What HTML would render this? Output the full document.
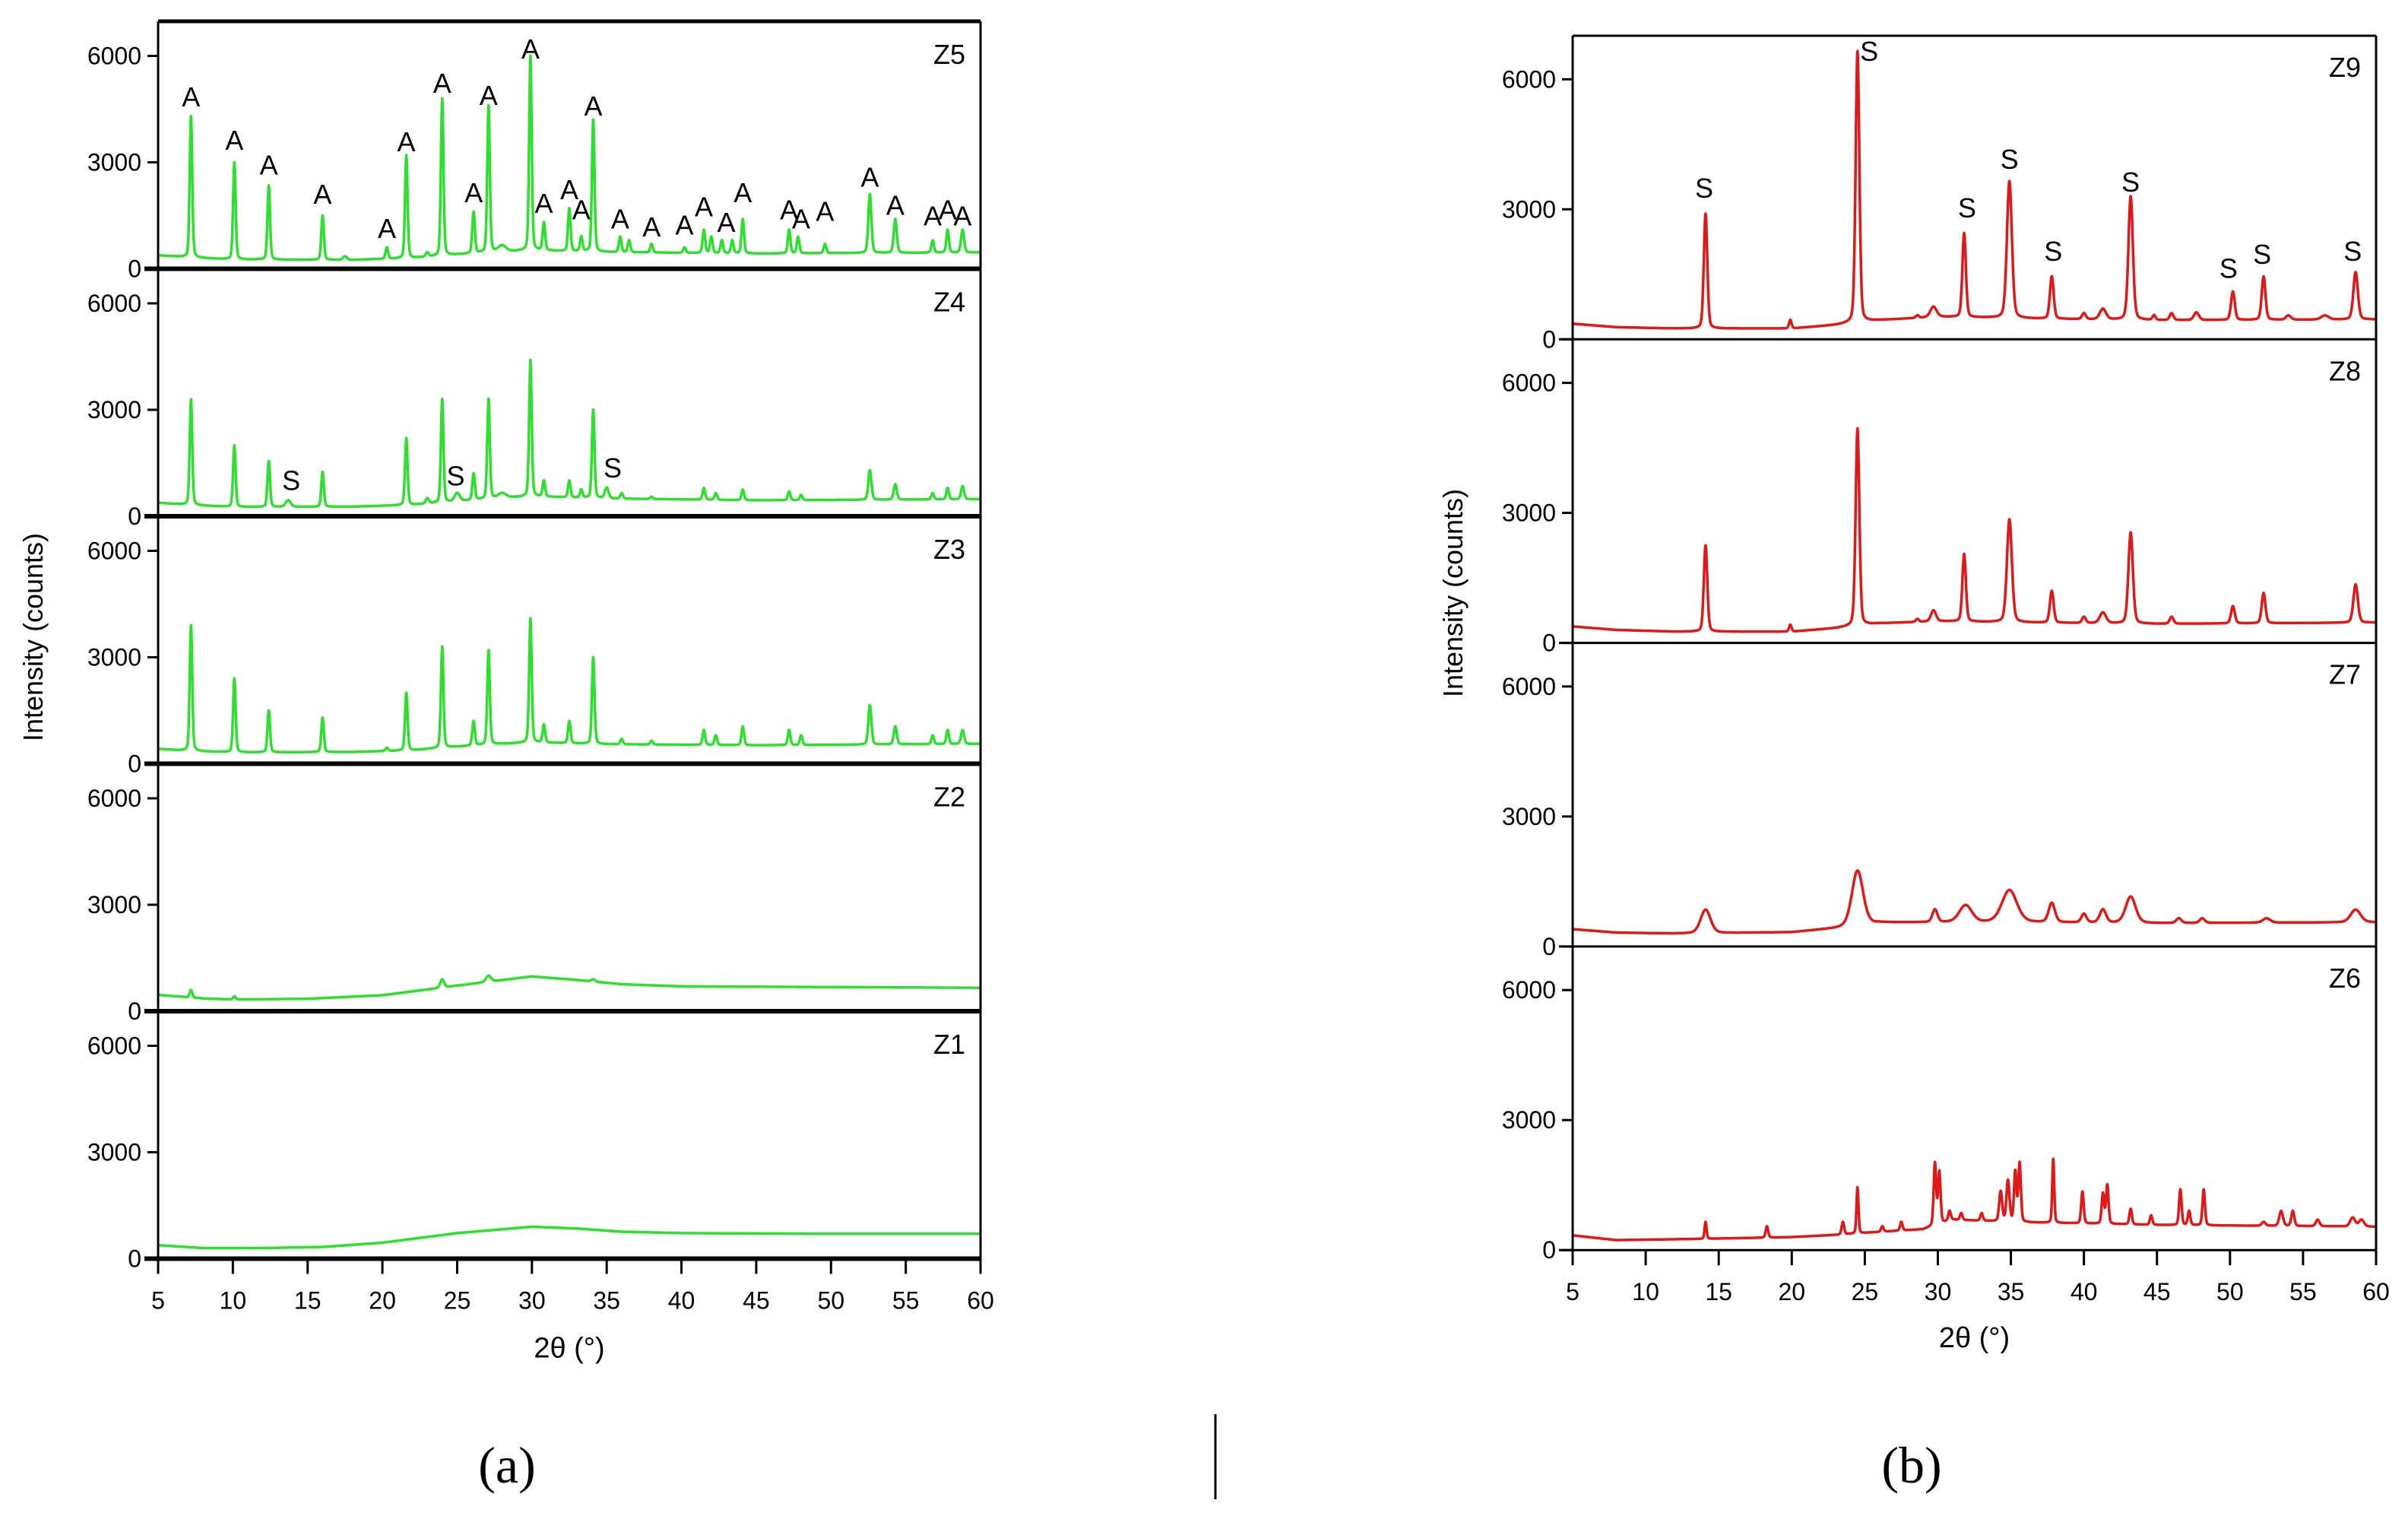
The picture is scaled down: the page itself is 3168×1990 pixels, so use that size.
<!DOCTYPE html>
<html><head><meta charset="utf-8">
<style>
html,body{margin:0;padding:0;background:#fff;}
svg{display:block;font-family:"Liberation Sans",Arial,sans-serif;}
</style></head>
<body>
<svg id="chart" width="3168" height="1990" viewBox="0 0 3168 1990" xmlns="http://www.w3.org/2000/svg">
<g id="left"></g>
<g id="right"></g>
<text x="667" y="1950" font-family="Liberation Serif, serif" font-size="68" text-anchor="middle">(a)</text>
<text x="2515" y="1950" font-family="Liberation Serif, serif" font-size="68" text-anchor="middle">(b)</text>
<line x1="1599" y1="1860" x2="1599" y2="1972" stroke="#000" stroke-width="3"/>
</svg>
<script>
// ===== Data: sample names =====
const leftSamples = ["Z5","Z4","Z3","Z2","Z1"];
const rightSamples = ["Z9","Z8","Z7","Z6"];
const xTicks = [5,10,15,20,25,30,35,40,45,50,55,60];
const yTicks = [0,3000,6000];

// Baselines [2theta, counts]
const baseZ5 = [[5,380],[7,320],[10,260],[18,250],[22,300],[25,400],[28,480],[30,520],[35,470],[45,430],[60,460]];
const baseZ4 = [[5,380],[7,320],[10,260],[18,270],[22,320],[25,420],[28,520],[30,560],[35,500],[45,450],[60,480]];
const baseZ3 = [[5,420],[7,360],[10,320],[18,330],[22,380],[25,480],[28,560],[30,600],[35,550],[45,520],[60,560]];
const baseZ2 = [[5,460],[8,360],[10,330],[15,350],[20,450],[25,720],[30,980],[33,880],[36,760],[40,700],[50,680],[60,660]];
const baseZ1 = [[5,380],[8,300],[12,300],[16,330],[20,450],[25,720],[30,900],[33,850],[36,760],[40,720],[50,700],[60,700]];
const baseZ9 = [[5,360],[8,280],[12,250],[20,250],[23,330],[26,440],[30,520],[36,480],[45,440],[60,460]];
const baseZ8 = [[5,380],[8,300],[12,260],[20,260],[23,340],[26,450],[30,500],[36,470],[45,440],[60,470]];
const baseZ7 = [[5,400],[8,320],[12,300],[20,330],[23,420],[26,550],[30,560],[36,560],[45,540],[60,560]];
const baseZ6 = [[5,340],[8,230],[14,260],[20,300],[23,350],[26,420],[29,480],[31,700],[36,640],[45,580],[60,540]];

// Peaks [2theta, top counts, half width]
const peaksZ5 = [[7.2,4300,.1],[10.1,3000,.1],[12.4,2350,.1],[16.0,1500,.1],[17.5,350,.15],[20.3,600,.1],[21.6,3200,.1],[23.0,450,.12],[24.0,4800,.1],[26.1,1600,.1],[27.1,4600,.1],[28.0,650,.3],[29.9,6000,.1],[30.8,1300,.1],[32.5,1700,.1],[33.3,900,.1],[34.1,4200,.1],[35.9,900,.1],[36.5,800,.1],[38.0,700,.1],[40.2,600,.1],[41.5,1100,.1],[42.0,900,.1],[42.7,800,.1],[43.4,800,.1],[44.1,1400,.1],[47.2,1100,.1],[47.8,900,.1],[49.6,700,.1],[52.6,2100,.12],[54.3,1400,.12],[56.8,800,.1],[57.8,1100,.1],[58.8,1100,.12]];
const peaksZ4 = [[7.2,3300,.1],[10.1,2000,.1],[12.4,1550,.1],[13.7,450,.2],[16.0,1250,.1],[21.6,2200,.1],[23.0,500,.12],[24.0,3300,.1],[25.0,650,.2],[26.1,1200,.1],[27.1,3300,.1],[28.0,650,.3],[29.9,4400,.1],[30.8,1000,.1],[32.5,1000,.1],[33.3,750,.1],[34.1,3000,.1],[35.0,800,.15],[36.0,650,.1],[38.0,550,.1],[41.5,800,.1],[42.3,650,.1],[44.1,750,.1],[47.2,700,.1],[48,600,.1],[52.6,1300,.12],[54.3,900,.12],[56.8,650,.1],[57.8,800,.1],[58.8,850,.12]];
const peaksZ3 = [[7.2,3900,.1],[10.1,2400,.1],[12.4,1500,.1],[16.0,1300,.1],[20.3,450,.1],[21.6,2000,.1],[24.0,3300,.1],[26.1,1200,.1],[27.1,3200,.1],[29.9,4100,.1],[30.8,1100,.1],[32.5,1200,.1],[34.1,3000,.1],[36.0,700,.1],[38.0,650,.1],[41.5,950,.1],[42.3,800,.1],[44.1,1050,.1],[47.2,950,.1],[48,800,.1],[52.6,1650,.12],[54.3,1050,.12],[56.8,800,.1],[57.8,950,.1],[58.8,950,.12]];
const peaksZ2 = [[7.2,600,.1],[10.1,420,.1],[24.0,900,.15],[27.1,1000,.2],[34.1,900,.15]];
const peaksZ1 = [];
const peaksZ9 = [[14.1,2900,.14],[19.9,450,.1],[24.5,6650,.15],[28.6,550,.12],[29.7,750,.25],[31.8,2450,.14],[34.9,3650,.2],[37.8,1450,.15],[40.0,600,.15],[41.3,700,.25],[43.2,3300,.18],[44.8,550,.12],[46.0,600,.15],[47.7,620,.2],[50.2,1100,.15],[52.3,1450,.15],[54.0,550,.2],[56.5,550,.3],[58.6,1550,.18]];
const peaksZ8 = [[14.1,2250,.14],[19.9,420,.1],[24.5,4950,.15],[28.6,550,.12],[29.7,750,.2],[31.8,2050,.14],[34.9,2850,.2],[37.8,1200,.15],[40.0,600,.15],[41.3,700,.25],[43.2,2550,.18],[46.0,600,.15],[50.2,850,.15],[52.3,1150,.15],[58.6,1350,.18]];
const peaksZ7 = [[14.1,850,.4],[24.5,1750,.45],[29.8,850,.2],[31.9,950,.5],[34.9,1300,.6],[37.8,1000,.25],[40.0,750,.2],[41.3,850,.25],[43.2,1150,.4],[46.5,650,.2],[48.1,650,.2],[52.5,650,.3],[58.6,850,.4]];
const peaksZ6 = [[14.1,650,.08],[18.3,550,.1],[23.5,650,.1],[24.5,1450,.08],[26.2,550,.1],[27.5,650,.1],[29.8,2000,.1],[30.1,1800,.1],[30.8,900,.1],[31.6,850,.1],[33.0,850,.1],[34.3,1350,.12],[34.8,1600,.12],[35.3,1800,.1],[35.6,2000,.1],[37.9,2100,.08],[39.9,1350,.1],[41.3,1300,.1],[41.6,1500,.1],[43.2,950,.1],[44.6,800,.1],[46.6,1400,.1],[47.2,900,.1],[48.2,1400,.1],[52.3,650,.15],[53.5,900,.15],[54.3,900,.12],[56.0,700,.15],[58.4,750,.2],[59.0,700,.2]];

// Annotations [2theta, counts (text center), label]
const labelsZ5 = [[7.2,4830,"A"],[10.1,3610,"A"],[12.4,2910,"A"],[16,2090,"A"],[20.3,1130,"A"],[21.6,3570,"A"],[24,5220,"A"],[26.1,2130,"A"],[27.1,4870,"A"],[29.9,6180,"A"],[30.8,1830,"A"],[32.5,2220,"A"],[33.3,1650,"A"],[34.1,4570,"A"],[35.9,1390,"A"],[38,1170,"A"],[40.2,1220,"A"],[41.5,1740,"A"],[43,1300,"A"],[44.1,2130,"A"],[47.2,1650,"A"],[48,1390,"A"],[49.6,1610,"A"],[52.6,2570,"A"],[54.3,1780,"A"],[56.8,1480,"A"],[57.8,1650,"A"],[58.8,1480,"A"]];
const labelsZ4 = [[13.9,1000,"S"],[24.9,1130,"S"],[35.4,1350,"S"]];
const labelsZ9 = [[14.0,3480,"S"],[25.3,6640,"S"],[32.0,3020,"S"],[34.9,4150,"S"],[37.9,2020,"S"],[43.2,3620,"S"],[49.9,1630,"S"],[52.2,1950,"S"],[58.4,2020,"S"]];

const NS = "http://www.w3.org/2000/svg";
function mk(tag, attrs, parent){
  const e = document.createElementNS(NS, tag);
  for (const k in attrs) e.setAttribute(k, attrs[k]);
  parent.appendChild(e);
  return e;
}
function interp(base, x){
  for (let i=0;i<base.length-1;i++){
    if (x>=base[i][0] && x<=base[i+1][0]){
      const t=(x-base[i][0])/(base[i+1][0]-base[i][0]);
      return base[i][1]+t*(base[i+1][1]-base[i][1]);
    }
  }
  return base[base.length-1][1];
}
function spectrum(base, peaks){
  const out=[];
  for (let x=5; x<=60.0001; x+=0.02){
    let y=interp(base,x);
    for (const p of peaks){
      const amp=p[1]-interp(base,p[0]);
      const d=(x-p[0])/p[2];
      y+=amp*(0.75*Math.exp(-0.693*d*d)+0.25/(1+d*d));
    }
    out.push([x,y]);
  }
  return out;
}

function drawSide(g, cfg){
  const xs = v => cfg.x0 + (v-5)/55*(cfg.x1-cfg.x0);
  cfg.samples.forEach((name,i)=>{
    const top = cfg.top + i*cfg.h, bot = top + cfg.h;
    const ys = v => bot - v*cfg.pxPer6000/6000;
    const pg = mk("g",{},g);
    
    
    const pts = spectrum(cfg.bases[i], cfg.peaks[i]);
    const d = pts.map((p,k)=>(k?"L":"M")+xs(p[0]).toFixed(1)+" "+Math.max(top+2,ys(p[1])).toFixed(1)).join("");
    const path = mk("path",{d:d,fill:"none",stroke:cfg.color,"stroke-width":cfg.lw,"stroke-linejoin":"round"},pg);
    
    
    if (i===0){
      const tl = mk("line",{x1:cfg.x0,y1:top,x2:cfg.x1,y2:top,stroke:"#000","stroke-width":cfg.topW},pg);
      
      
    }
    const bl = mk("line",{x1:cfg.x0-(cfg.extLeft||0),y1:bot,x2:cfg.x1,y2:bot,stroke:"#000","stroke-width":cfg.sepW},pg);
    
    
    yTicks.forEach(t=>{
      const y = ys(t);
      const tk = mk("line",{x1:cfg.x0-14,y1:y,x2:cfg.x0,y2:y,stroke:"#000","stroke-width":3},pg);
      
      
      const tx = mk("text",{x:cfg.x0-22,y:y+11,"font-size":cfg.fs,"text-anchor":"end",fill:"#000"},pg);
      tx.textContent = t;
      
      
    });
    const nm = mk("text",{x:cfg.x1-20,y:top+cfg.nameDy,"font-size":cfg.fs+4,"text-anchor":"end",fill:"#000"},pg);
    nm.textContent = name;
    
    
    (cfg.labels[i]||[]).forEach(l=>{
      const a = mk("text",{x:xs(l[0]),y:ys(l[1])+12,"font-size":cfg.fs+4,"text-anchor":"middle",fill:"#000"},pg);
      a.textContent = l[2];
      
      
    });
  });
  const yTop = cfg.top, yBot = cfg.top + cfg.samples.length*cfg.h;
  const lsd = mk("line",{x1:cfg.x0,y1:yTop,x2:cfg.x0,y2:yBot,stroke:"#000","stroke-width":3},g);
  
  
  const rsd = mk("line",{x1:cfg.x1,y1:yTop,x2:cfg.x1,y2:yBot,stroke:"#000","stroke-width":3},g);
  
  
  xTicks.forEach(t=>{
    const x = xs(t);
    const tk = mk("line",{x1:x,y1:yBot,x2:x,y2:yBot+20,stroke:"#000","stroke-width":3},g);
    
    
    const tx = mk("text",{x:x,y:yBot+cfg.xLabDy,"font-size":cfg.fs,"text-anchor":"middle",fill:"#000"},g);
    tx.textContent = t;
    
    
  });
  const xt = mk("text",{x:(cfg.x0+cfg.x1)/2,y:yBot+cfg.xTitleDy,"font-size":cfg.fs+6,"text-anchor":"middle",fill:"#000"},g);
  xt.textContent = "2θ (°)";
  
  
  const yt = mk("text",{x:0,y:0,"font-size":cfg.fs+4,"text-anchor":"middle",fill:"#000",transform:`translate(${cfg.yTitleX},${cfg.yTitleY}) rotate(-90)`},g);
  yt.textContent = "Intensity (counts)";
  
  
}

drawSide(document.getElementById("left"),{
  samples:leftSamples, x0:208, x1:1290, top:28, h:325.5, pxPer6000:280,
  bases:[baseZ5,baseZ4,baseZ3,baseZ2,baseZ1], peaks:[peaksZ5,peaksZ4,peaksZ3,peaksZ2,peaksZ1],
  labels:[labelsZ5,labelsZ4], color:"#2ee02e", lw:3.5, topW:5, sepW:6, extLeft:18,
  fs:32, nameDy:56, xLabDy:66, xTitleDy:130, yTitleX:56, yTitleY:838
});
drawSide(document.getElementById("right"),{
  samples:rightSamples, x0:2069, x1:3126, top:47, h:399.3, pxPer6000:342,
  bases:[baseZ9,baseZ8,baseZ7,baseZ6], peaks:[peaksZ9,peaksZ8,peaksZ7,peaksZ6],
  labels:[labelsZ9], color:"#e01818", lw:3.5, topW:3, sepW:3, extLeft:18,
  fs:32, nameDy:54, xLabDy:66, xTitleDy:128, yTitleX:1924, yTitleY:780
});
</script>
</body></html>
